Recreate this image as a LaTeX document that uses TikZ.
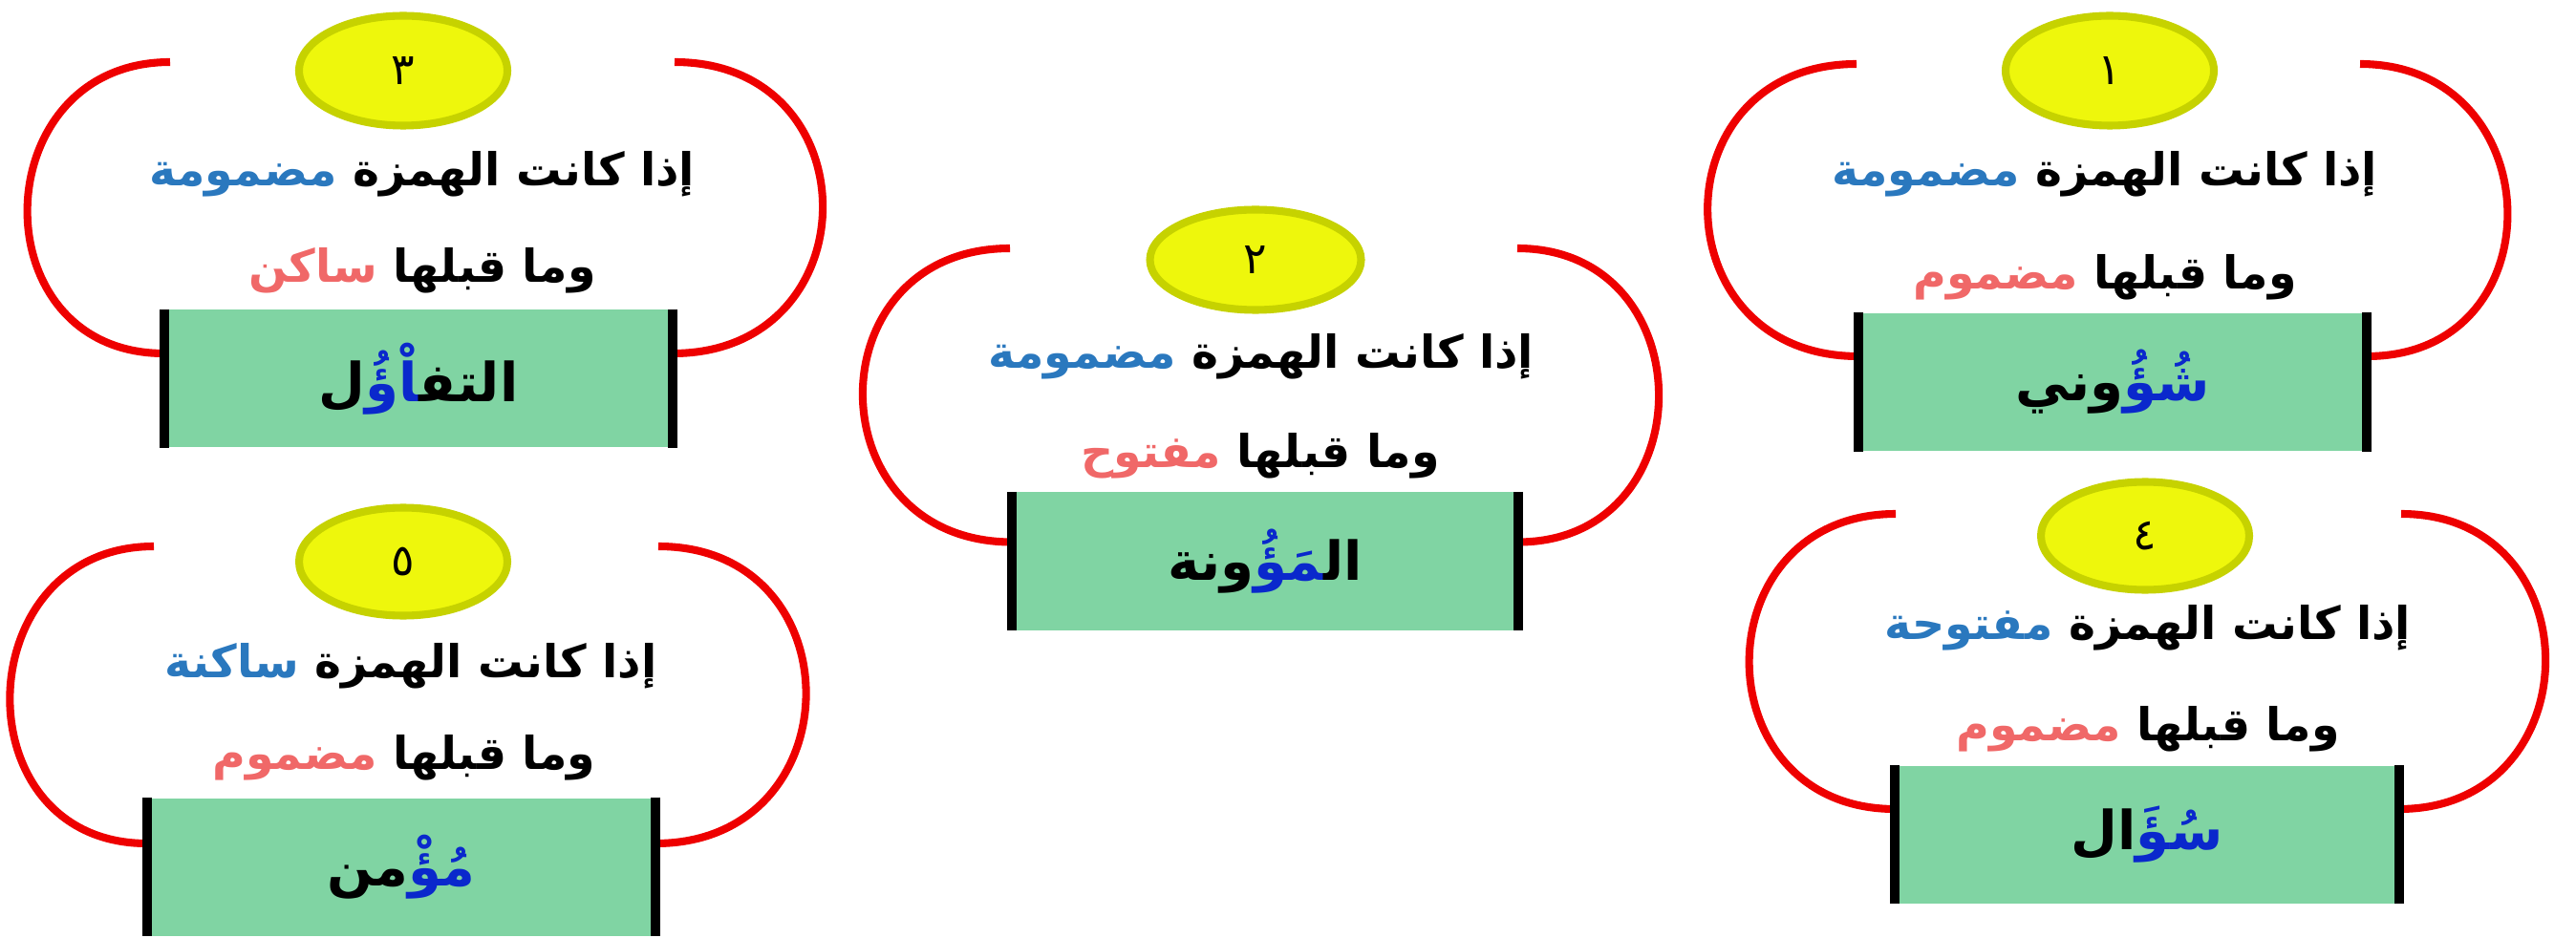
\documentclass[tikz,border=0pt]{standalone}
\usepackage{fontspec}
\usepackage{tikz}
\usetikzlibrary{shapes.geometric}
\newfontfamily\arabicfont[Script=Arabic]{DejaVu Sans}
\TeXXeTstate=1
\newcommand{\zj}{^^^^200d}
\definecolor{ballfill}{HTML}{EEF70C}
\definecolor{balldraw}{HTML}{C6D200}
\definecolor{boxgreen}{HTML}{80D4A3}
\definecolor{arcred}{HTML}{EE0000}
\definecolor{wordblue}{HTML}{2A78BE}
\definecolor{wordred}{HTML}{F06868}
\definecolor{hamzablue}{HTML}{0A28CC}

\begin{document}
\begin{tikzpicture}[
    numball/.style={ellipse,fill=ballfill,draw=balldraw,line width=2.3pt,minimum width=2.18cm,minimum height=1.15cm,inner sep=0pt,font=\arabicfont\fontsize{13}{15}\selectfont},
    ruleline/.style={inner sep=0pt,font=\arabicfont\bfseries\fontsize{13.5}{15}\selectfont},
    wordbox/.style={fill=boxgreen,minimum height=1.44cm,inner sep=0pt,font=\arabicfont\bfseries\fontsize{16}{18}\selectfont},
    arcline/.style={arcred,line width=2.3pt},
    boxedge/.style={black,line width=2.8pt}
  ]
  \useasboundingbox (0,0) rectangle (26.96,-9.82);

  \node[numball] (num1) at (22.08,-0.74) {١};
  \node[ruleline] (top1) at (22.03,-1.82) {{\color{wordblue}مضمومة}\ \beginR إذا كانت الهمزة\endR};
  \node[ruleline] (low1) at (22.03,-2.90) {{\color{wordred}مضموم}\ \beginR وما قبلها\endR};
  \node[wordbox,minimum width=5.31cm] (box1) at (22.11,-4.00) {\beginR وني\endR{\color{hamzablue}\beginR شُؤُ\endR}};
  \coordinate (lt1) at (19.43,-0.67);
  \coordinate (rt1) at (24.70,-0.67);
  \draw[arcline] (lt1) .. controls +(-2.09,0) and +(-2.09,0) .. ([yshift=0.27cm]box1.west);
  \draw[arcline] (rt1) .. controls +(2.01,0) and +(2.01,0) .. ([yshift=0.27cm]box1.east);
  \draw[boxedge] (box1.north west) -- (box1.south west);
  \draw[boxedge] (box1.north east) -- (box1.south east);

  \node[numball,minimum width=2.21cm,minimum height=1.05cm] (num2) at (13.14,-2.72) {٢};
  \node[ruleline] (top2) at (13.20,-3.73) {{\color{wordblue}مضمومة}\ \beginR إذا كانت الهمزة\endR};
  \node[ruleline] (low2) at (13.19,-4.77) {{\color{wordred}مفتوح}\ \beginR وما قبلها\endR};
  \node[wordbox,minimum width=5.28cm] (box2) at (13.24,-5.875) {\beginR ونة\endR{\color{hamzablue}\beginR\zj مَؤُ\endR}\beginR ال\zj\endR};
  \coordinate (lt2) at (10.57,-2.60);
  \coordinate (rt2) at (15.88,-2.60);
  \draw[arcline] (lt2) .. controls +(-2.07,0) and +(-2.07,0) .. ([yshift=0.2cm]box2.west);
  \draw[arcline] (rt2) .. controls +(1.97,0) and +(1.97,0) .. ([yshift=0.2cm]box2.east);
  \draw[boxedge] (box2.north west) -- (box2.south west);
  \draw[boxedge] (box2.north east) -- (box2.south east);

  \node[numball] (num3) at (4.22,-0.74) {٣};
  \node[ruleline] (top3) at (4.42,-1.82) {{\color{wordblue}مضمومة}\ \beginR إذا كانت الهمزة\endR};
  \node[ruleline] (low3) at (4.42,-2.83) {{\color{wordred}ساكن}\ \beginR وما قبلها\endR};
  \node[wordbox,minimum width=5.31cm] (box3) at (4.38,-3.965) {\beginR ل\endR{\color{hamzablue}\beginR\zj اْؤُ\endR}\beginR التف\zj\endR};
  \coordinate (lt3) at (1.78,-0.65);
  \coordinate (rt3) at (7.06,-0.65);
  \draw[arcline] (lt3) .. controls +(-1.95,0) and +(-1.95,0) .. ([yshift=0.265cm]box3.west);
  \draw[arcline] (rt3) .. controls +(2.08,0) and +(2.08,0) .. ([yshift=0.265cm]box3.east);
  \draw[boxedge] (box3.north west) -- (box3.south west);
  \draw[boxedge] (box3.north east) -- (box3.south east);

  \node[numball,minimum height=1.13cm] (num4) at (22.45,-5.61) {٤};
  \node[ruleline] (top4) at (22.48,-6.57) {{\color{wordblue}مفتوحة}\ \beginR إذا كانت الهمزة\endR};
  \node[ruleline] (low4) at (22.48,-7.63) {{\color{wordred}مضموم}\ \beginR وما قبلها\endR};
  \node[wordbox,minimum width=5.26cm] (box4) at (22.47,-8.735) {\beginR ال\endR{\color{hamzablue}\beginR سُؤَ\endR}};
  \coordinate (lt4) at (19.84,-5.38);
  \coordinate (rt4) at (25.13,-5.38);
  \draw[arcline] (lt4) .. controls +(-2.04,0) and +(-2.04,0) .. ([yshift=0.265cm]box4.west);
  \draw[arcline] (rt4) .. controls +(2.03,0) and +(2.03,0) .. ([yshift=0.265cm]box4.east);
  \draw[boxedge] (box4.north west) -- (box4.south west);
  \draw[boxedge] (box4.north east) -- (box4.south east);

  \node[numball,minimum height=1.13cm] (num5) at (4.22,-5.88) {٥};
  \node[ruleline] (top5) at (4.30,-6.97) {{\color{wordblue}ساكنة}\ \beginR إذا كانت الهمزة\endR};
  \node[ruleline] (low5) at (4.23,-7.93) {{\color{wordred}مضموم}\ \beginR وما قبلها\endR};
  \node[wordbox,minimum width=5.31cm] (box5) at (4.20,-9.075) {\beginR من\endR{\color{hamzablue}\beginR مُؤْ\endR}};
  \coordinate (lt5) at (1.61,-5.72);
  \coordinate (rt5) at (6.89,-5.72);
  \draw[arcline] (lt5) .. controls +(-1.96,0) and +(-1.96,0) .. ([yshift=0.245cm]box5.west);
  \draw[arcline] (rt5) .. controls +(2.08,0) and +(2.08,0) .. ([yshift=0.245cm]box5.east);
  \draw[boxedge] (box5.north west) -- (box5.south west);
  \draw[boxedge] (box5.north east) -- (box5.south east);
\end{tikzpicture}
\end{document}
